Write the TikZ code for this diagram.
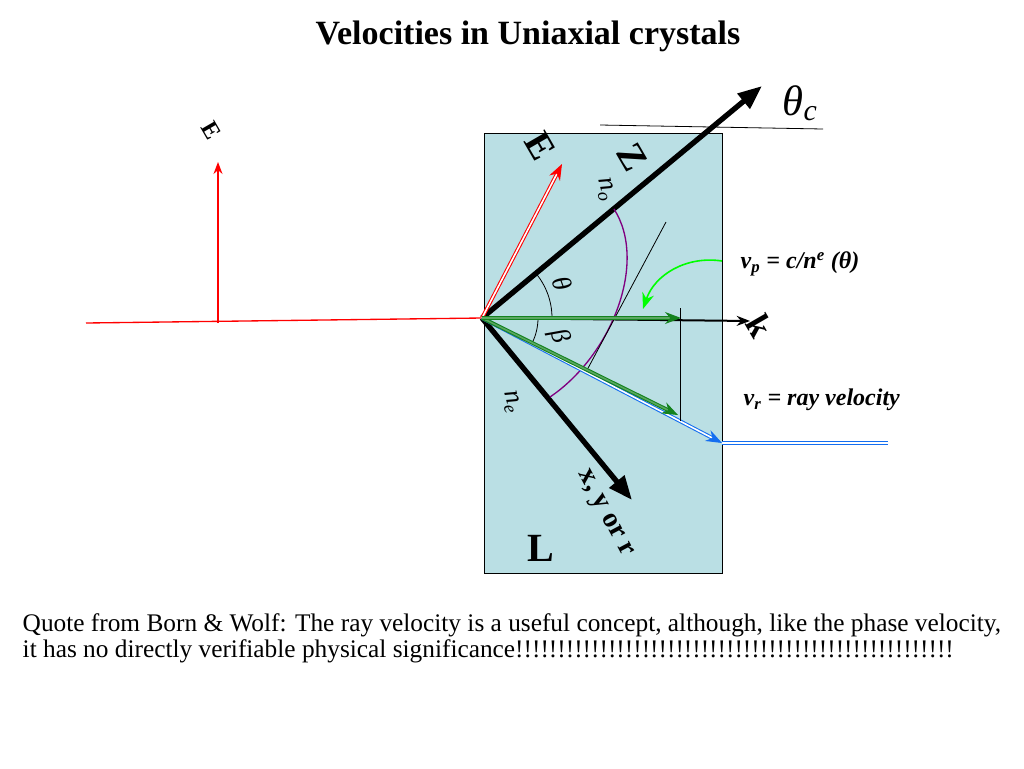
\documentclass[tikz,border=0pt]{standalone}
\usepackage{fontspec}
\setmainfont{Liberation Serif}
\usetikzlibrary{arrows.meta,positioning}
\definecolor{crystal}{RGB}{186,223,228}
\definecolor{vgreen}{RGB}{20,130,30}
\definecolor{vblue}{RGB}{20,110,240}
\begin{document}
\begin{tikzpicture}[x=0.75pt,y=-0.75pt,
axis/.style={line width=4pt,-{Triangle[length=18pt,width=14pt]}},
dbl/.style={double,double distance=1.2pt,line width=0.8pt},
lbl/.style={font=\bfseries\fontsize{21}{23}\selectfont},
sym/.style={font=\itshape\fontsize{20}{22}\selectfont},
>=Stealth
]
\useasboundingbox (0,0) rectangle (1024,768);
\fill[fill=crystal,draw=black,line width=0.5pt] (484,133) rectangle (722,573);
% incoming wave
\coordinate (O) at (482,318);
\coordinate (inl) at (86,323);
\coordinate (foot) at (218,323);
\coordinate (Etip) at (218,162);
\draw[red,line width=1pt] (inl) -- (O);
\draw[red,line width=1pt,-{Stealth[length=9pt]}] (foot) -- (Etip);
\node[rotate=-60,font=\bfseries\fontsize{18}{19}\selectfont] (Ein) at (211,130) {E};
% axes
\coordinate (Zend) at (762,86);
\coordinate (Xend) at (632,500);
\coordinate (kend) at (750,321);
\draw[axis] (O) -- (Zend);
\draw[axis] (O) -- (Xend);
\draw[line width=1.5pt,-{Stealth[length=10pt]}] (O) -- (kend);
\node[font=\itshape\fontsize{32}{34}\selectfont] (thc) at (800,103) {θ\textsubscript{\itshape c}};
\coordinate (hl) at (600,125);
\coordinate (hr) at (823,129);
\draw[line width=0.6pt] (hl) -- (hr);
% E field in crystal
\coordinate (Ecr) at (562,164);
\draw[dbl,draw=red,double=white,-{Stealth[length=12pt]}] (O) -- (Ecr);
\node[rotate=-60,font=\bfseries\fontsize{28}{30}\selectfont] (Elbl) at (540,146) {E};
\node[rotate=-60,font=\bfseries\fontsize{28}{30}\selectfont] (Zlbl) at (632,157) {Z};
\node[sym,rotate=-75] (no) at (605,190) {n\textsubscript{o}};
\node[sym,rotate=-75] (ne) at (511,402) {n\textsubscript{e}};
\node[lbl,rotate=-62] (xyr) at (604,514) {x, y or r};
\node[font=\bfseries\fontsize{30}{32}\selectfont] (L) at (541,548) {L};
\node[rotate=-60,font=\bfseries\fontsize{26}{28}\selectfont] (klbl) at (760,326) {k};
% index ellipse and tangent
\coordinate (a1) at (614,209);
\coordinate (a2) at (550,397);
\draw[violet,line width=1pt] (a1) .. controls (648,262) and (612,355) .. (a2);
\coordinate (t1) at (666,222);
\coordinate (t2) at (586,372);
\draw[line width=0.6pt] (t1) -- (t2);
% angles
\draw[line width=0.6pt] (O) ++(-39.6:70) arc[start angle=-39.6,end angle=0,radius=70];
\draw[line width=0.6pt] (O) ++(0:56) arc[start angle=0,end angle=27,radius=56];
\node[sym,rotate=-70] (th) at (562,284) {θ};
\node[sym,rotate=-70] (be) at (559,336) {β};
% velocities
\coordinate (vp) at (681,318);
\coordinate (vr) at (678,415);
\coordinate (bl) at (722,443);
\coordinate (br) at (888,443);
\draw[dbl,draw=vblue,double=white,-{Stealth[length=12pt]}] (O) -- (bl);
\draw[dbl,draw=vblue,double=white] (bl) -- (br);
\draw[dbl,draw=vgreen,double=vgreen!70,-{Stealth[length=12pt]}] (O) -- (vr);
\draw[dbl,draw=vgreen,double=vgreen!70,-{Stealth[length=12pt]}] (O) -- (vp);
\coordinate (vt) at (680,308);
\coordinate (vb) at (680,421);
\draw[line width=0.6pt] (vt) -- (vb);
% labels
\coordinate (gs) at (722,261);
\coordinate (ge) at (643,309);
\draw[green,line width=1.2pt,-{Stealth[length=12pt]}] (gs) to[bend right=40] (ge);
\node[anchor=west,font=\bfseries\itshape\fontsize{18}{20}\selectfont] (vplbl) at (736,264) {v\textsubscript{p} = c/n\textsuperscript{e} (θ)};
\node[anchor=west,font=\bfseries\itshape\fontsize{18}{20}\selectfont] (vrlbl) at (739,400) {v\textsubscript{r} = ray velocity};
% text
\node[font=\bfseries\fontsize{25.5}{28}\selectfont] (title) at (528,36) {Velocities in Uniaxial crystals};
\node[anchor=west,align=left,font=\fontsize{19}{19.5}\selectfont] (quote) at (18,638) {Quote from Born \& Wolf: The ray velocity is a useful concept, although, like the phase velocity,\\it has no directly verifiable physical significance!!!!!!!!!!!!!!!!!!!!!!!!!!!!!!!!!!!!!!!!!!!!!!!!!!!!};
\end{tikzpicture}
\end{document}
